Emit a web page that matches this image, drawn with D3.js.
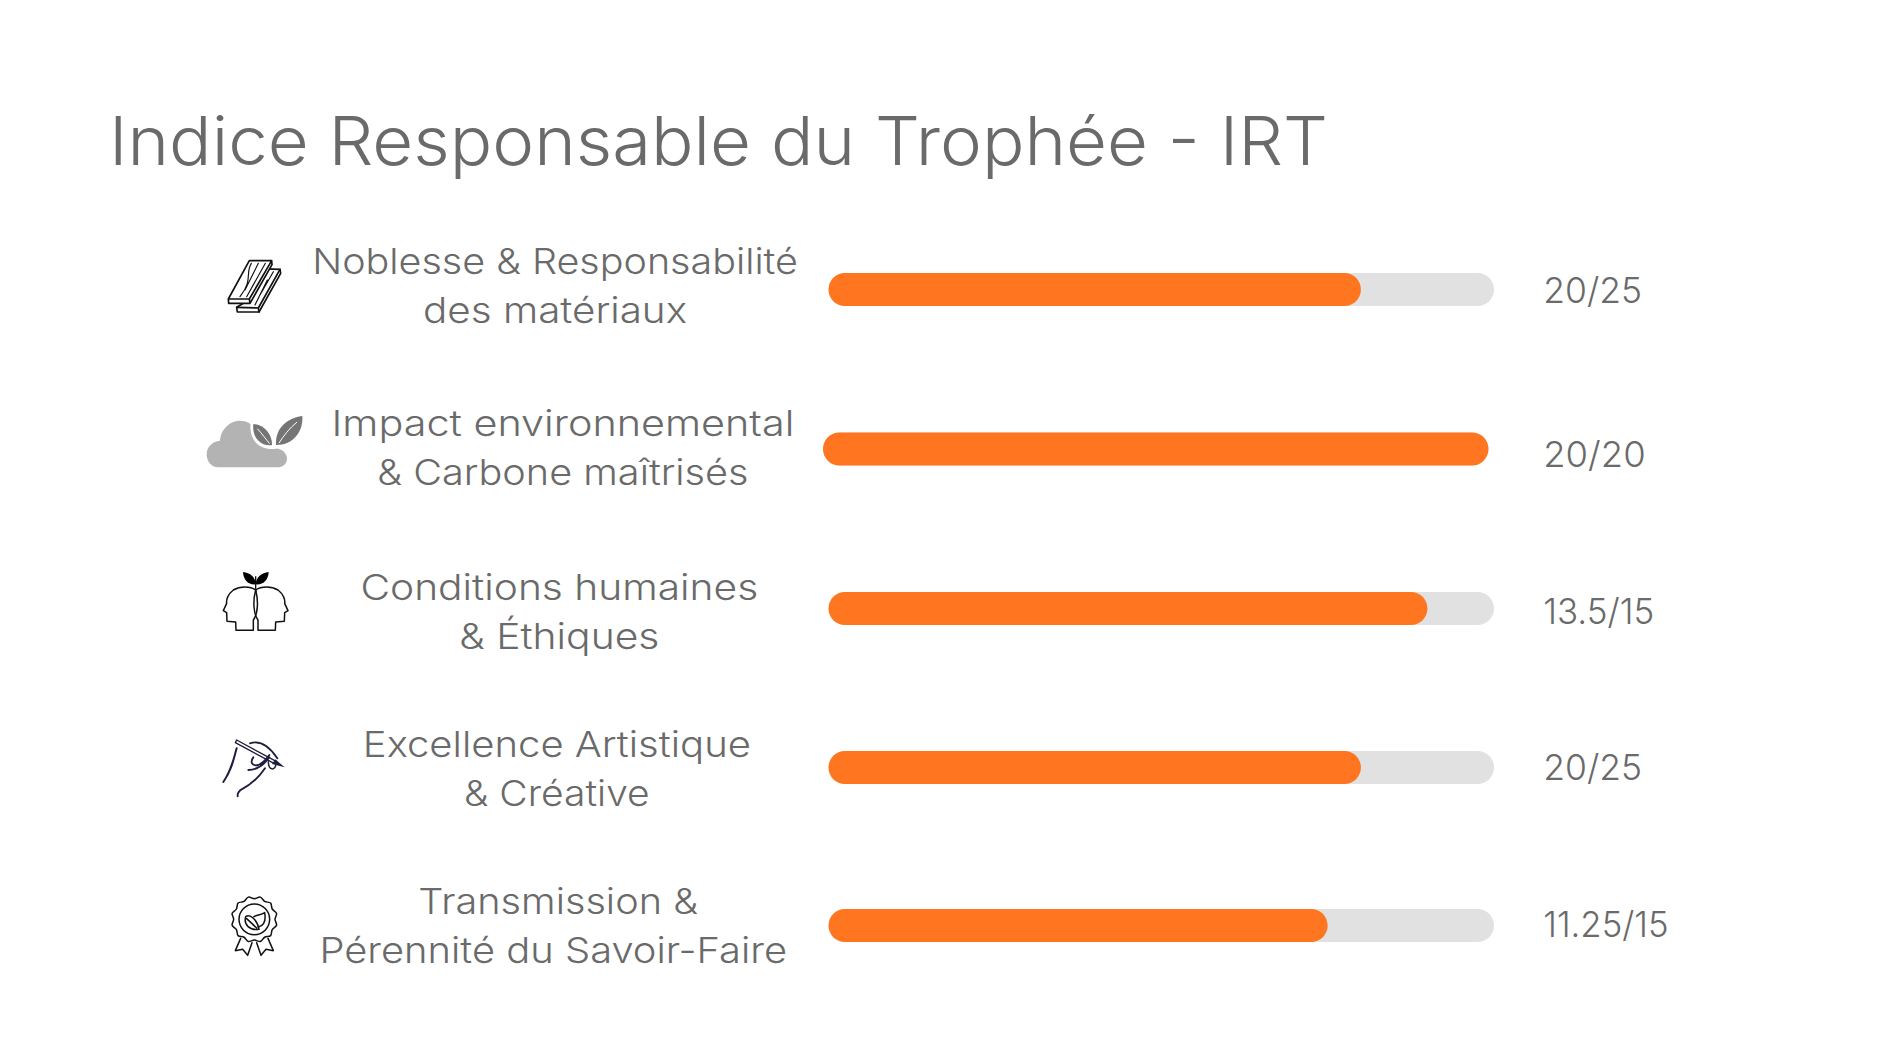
<!DOCTYPE html>
<html><head><meta charset="utf-8">
<script src="https://cdn.jsdelivr.net/npm/d3@7"></script>
<style>html,body{margin:0;background:#fff}svg{display:block}text{font-family:Inter,"Open Sans",sans-serif;fill:#6a6a6a}</style>
</head><body><svg id="c" width="1890" height="1063"></svg>
<script>
// data
const title = "Indice Responsable du Trophée - IRT";
const labels = [
  ["Noblesse & Responsabilité","des matériaux"],
  ["Impact environnemental","& Carbone maîtrisés"],
  ["Conditions humaines","& Éthiques"],
  ["Excellence Artistique","& Créative"],
  ["Transmission &","Pérennité du Savoir-Faire"]
];
const scores = [20,20,13.5,20,11.25];
const maxima = [25,20,15,25,15];
const valueText = ["20/25","20/20","13.5/15","20/25","11.25/15"];
// layout
const S = 1890/1568;
const rowCenter = [289.5,449,608.5,767.5,925.5];
const trackX0 = [828.5,823,828.5,828.5,828.5];
const trackW = 665.5, trackH = 33;
const labelCx = [[460.5,460.5],[467,467],[464,464],[462,462],[463,459]].map(a=>a.map(d=>d*S));
const labelBase = [[227.2,268.2],[361.5,402.2],[497.5,538.2],[628.2,668.8],[758.2,799.2]].map(a=>a.map(d=>d*S));
const labelW = [[403,219],[384,308],[330,166],[322,154],[232,388]].map(a=>a.map(d=>d*S));
const valBase = [251.5,387.5,517.5,647.5,777.5].map(d=>d*S);
const valW = [82,85,92,82,104].map(d=>d*S);

const svg = d3.select("#c");
svg.append("text").attr("x",109).attr("y",165).attr("font-size",67).attr("font-weight",300)
  .attr("textLength",1219).attr("lengthAdjust","spacingAndGlyphs").text(title);

const rows = svg.selectAll("g.row").data(scores).join("g").attr("class","row");
rows.each(function(v,i){
  const g = d3.select(this);
  const x = d3.scaleLinear().domain([0,maxima[i]]).range([trackX0[i],trackX0[i]+trackW]);
  const y = rowCenter[i]-trackH/2;
  g.append("rect").attr("x",x(0)).attr("y",y).attr("width",x(maxima[i])-x(0)).attr("height",trackH)
    .attr("rx",trackH/2).attr("fill","#e1e1e1");
  g.append("rect").attr("x",x(0)).attr("y",y).attr("width",x(v)-x(0)).attr("height",trackH)
    .attr("rx",trackH/2).attr("fill","#ff7520");
  labels[i].forEach((t,j)=>{
    g.append("text").attr("x",labelCx[i][j]).attr("y",labelBase[i][j]).attr("text-anchor","middle")
      .attr("font-size",35.5).attr("font-weight",300).attr("textLength",labelW[i][j]).attr("lengthAdjust","spacingAndGlyphs").text(t);
  });
  g.append("text").attr("x",1280.3*S).attr("y",valBase[i]).attr("font-size",35.5).attr("font-weight",300)
    .attr("textLength",valW[i]).attr("lengthAdjust","spacingAndGlyphs").text(valueText[i]);
});

// icons, drawn in zoomed-crop units (1/3 px)
const icon = (x,y)=>svg.append("g").attr("transform",`translate(${x},${y}) scale(${1/3})`);
const line = (g,d,w=5,c="#111")=>g.append("path").attr("d",d).attr("fill","none").attr("stroke",c).attr("stroke-width",w).attr("stroke-linejoin","round").attr("stroke-linecap","round");
const fill = (g,d,c)=>g.append("path").attr("d",d).attr("fill",c);

// planks
const a = icon(190,230);
line(a,"M205,116 L270,118 L272,130 L207,246 L142,246 L140,232 L160,220");
line(a,"M140,232 L205,234 L270,118 M205,234 L207,246");
fill(a,"M115,207 L178,92 L245,92 L246,104 L180,220 L116,220 Z","#fff");
line(a,"M115,207 L178,92 L245,92 L178,207 Z M115,207 L116,220 L180,220 L178,207 M245,92 L246,104 L180,220");
line(a,"M184,100 C165,130 190,150 150,200 M205,100 L165,180 M226,100 L170,200",3.5);
line(a,"M232,150 L195,225 M250,125 L210,195",3.5);

// cloud + leaves
const b = icon(190,230);
fill(b,"M85,712 C62,712 50,692 50,672 C50,650 68,634 90,632 C92,598 120,572 150,572 C170,572 186,582 196,596 L240,655 C272,650 291,668 291,686 C291,702 278,712 262,712 Z","#b3b3b3");
b.append("path").attr("d","M182,580 C176,622 200,657 248,657 C262,657 330,640 345,560 L300,540 Z").attr("fill","#fff");
fill(b,"M190,582 C225,585 247,615 246,645 C215,650 185,625 190,582 Z","#757575");
fill(b,"M337,558 C340,605 310,645 258,645 C255,600 285,565 337,558 Z","#757575");
line(b,"M203,597 C215,610 228,628 238,640",3,"#fff");
line(b,"M320,577 C298,595 280,618 268,638",3,"#fff");

// heads
const h = icon(200,550);
const head = "M167,120 C150,108 120,108 100,120 C84,132 78,150 80,160 L70,182 L80,188 L81,214 L107,216 L108,241 L160,241 L160,210 C175,190 175,150 167,120";
line(h,head,4.5);
line(h,head,4.5).attr("transform","translate(334,0) scale(-1,1)");
line(h,"M167,80 L167,125",4);
fill(h,"M129,66 C150,68 167,82 167,103 C145,105 130,90 129,66 Z","#000");
fill(h,"M206,66 C185,68 168,82 167,103 C190,105 205,90 206,66 Z","#000");

// hand + pen
const p = icon(200,720);
const navy="#1d1d40";
line(p,"M110,60 L230,125 M106,68 L222,130 M110,60 L106,68",4,navy);
fill(p,"M226,118 L254,142 L216,132 Z",navy);
line(p,"M110,85 C100,120 95,150 70,186",6,navy);
line(p,"M150,70 C180,60 205,75 232,115",5.5,navy);
line(p,"M160,112 C150,125 155,140 175,135 C190,130 200,115 208,105 M145,150 C175,150 195,130 208,112",5.5,navy);
line(p,"M205,125 C205,150 225,155 228,132",4.5,navy);
line(p,"M195,145 C175,175 150,195 125,208 C115,215 112,222 113,229",5.5,navy);

// medal
const m = icon(200,720);
const cx=163,cy=598,n=12;
const wav = d3.lineRadial().curve(d3.curveCardinalClosed)
  .angle(d=>d*Math.PI/n).radius((d)=>d%2?69:62);
m.append("path").attr("transform",`translate(${cx},${cy})`).attr("d",wav(d3.range(n*2)))
  .attr("fill","none").attr("stroke","#111").attr("stroke-width",4.5);
m.append("circle").attr("cx",cx).attr("cy",cy).attr("r",46).attr("fill","none").attr("stroke","#111").attr("stroke-width",4.5);
line(m,"M137,590 C150,580 172,600 177,628 C150,632 130,615 137,590 Z M140,596 L170,624",4.5);
line(m,"M162,590 C168,585 185,585 194,578 C198,600 192,615 178,620",4.5);
line(m,"M122,655 L106,692 L128,688 L143,706 L156,668",4.5);
line(m,"M204,655 L220,692 L198,688 L183,706 L170,668",4.5);
</script></body></html>
